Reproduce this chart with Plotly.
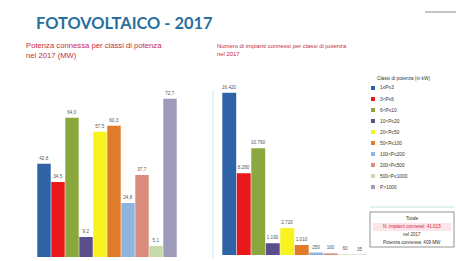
import plotly.graph_objects as go

# ---- data (approximate) ----
classi = ["1≤P≤3", "3<P≤6", "6<P≤10", "10<P≤20", "20<P≤50",
          "50<P≤100", "100<P≤200", "200<P≤500", "500<P≤1000", "P>1000"]
potenza_mw = [42.8, 34.5, 64.0, 9.2, 57.5, 60.3, 24.8, 37.7, 5.1, 72.7]
numero_impianti = [16420, 8280, 10790, 1190, 2720, 1010, 250, 160, 60, 35]
colori = ["#2F63A8", "#E8181B", "#8BA83E", "#5B4E8C", "#F8F21E",
          "#E07B2C", "#8FB4E0", "#D98C7C", "#C6DBA9", "#9D9BB9"]

titolo = "FOTOVOLTAICO - 2017"
sottotitolo_sx = "Potenza connessa per classi di potenza<br>nel 2017 (MW)"
sottotitolo_dx = "Numero di impianti connessi per classi di potenza<br>nel 2017"
titolo_legenda = "Classi di potenza (in kW)"
totale_righe = ["Totale", "N. impianti connessi: 41.015", "nel 2017",
                "Potenza connessa: 409 MW"]

W, H = 456, 261
def px(x): return x / W
def py(y): return 1 - y / H

fig = go.Figure()
fig.add_trace(go.Bar(
    x=classi, y=potenza_mw, marker_color=colori, marker_line_width=0,
    text=potenza_mw, texttemplate="%{y:.1f}", textposition="outside",
    constraintext="none", cliponaxis=False,
    textfont=dict(size=4.6, color="#555555", family="Liberation Sans"),
    xaxis="x", yaxis="y", showlegend=False, hoverinfo="skip"))
fig.add_trace(go.Bar(
    x=classi, y=numero_impianti, marker_color=colori, marker_line_width=0,
    text=numero_impianti, texttemplate="%{y:,.0f}", textposition="outside",
    constraintext="none", cliponaxis=False,
    textfont=dict(size=4.6, color="#555555", family="Liberation Sans"),
    xaxis="x2", yaxis="y2", showlegend=False, hoverinfo="skip"))

ax = dict(showgrid=False, zeroline=False, showticklabels=False, ticks="",
          showline=False, fixedrange=True)
layout = dict(
    width=W, height=H, margin=dict(l=0, r=0, t=0, b=0),
    paper_bgcolor="white", plot_bgcolor="rgba(0,0,0,0)",
    separators=",.", bargap=0.04,
    xaxis=dict(ax, domain=[px(37), px(177)]),
    yaxis=dict(ax, domain=[py(257), py(85)], range=[0, 79]),
    xaxis2=dict(ax, domain=[px(222), px(367)], anchor="y2"),
    yaxis2=dict(ax, domain=[py(255), py(85)], range=[0, 17200], anchor="x2"),
)
fig.update_layout(**layout)

P = dict(xref="paper", yref="paper", showarrow=False)
ann = []
ann.append(dict(P, text="<b>" + titolo + "</b>", x=px(34), y=py(22), xanchor="left",
                yanchor="middle",
                font=dict(family="Lato", size=16.4, color="#2A6F9E")))
ann.append(dict(P, text=sottotitolo_sx, x=px(24), y=py(50), xanchor="left",
                yanchor="middle", align="left",
                font=dict(family="Liberation Sans", size=7.7, color="#C62A45")))
ann.append(dict(P, text=sottotitolo_dx, x=px(215), y=py(50), xanchor="left",
                yanchor="middle", align="left",
                font=dict(family="Liberation Sans", size=5.9, color="#C62A45")))
ann.append(dict(P, text=titolo_legenda, x=px(403), y=py(78), xanchor="center",
                yanchor="middle",
                font=dict(family="Liberation Sans", size=4.8, color="#333333")))

shapes = []
for i, (c, col) in enumerate(zip(classi, colori)):
    yc = 88 + i * 11
    shapes.append(dict(type="rect", xref="paper", yref="paper",
                       x0=px(371), x1=px(375), y0=py(yc + 2), y1=py(yc - 2),
                       fillcolor=col, line=dict(width=0)))
    ann.append(dict(P, text=c, x=px(378), y=py(yc), xanchor="left", yanchor="middle",
                    font=dict(family="Liberation Sans", size=4.8, color="#333333")))

# total box
shapes.append(dict(type="line", xref="paper", yref="paper", x0=px(370), x1=px(455),
                   y0=py(207), y1=py(207), line=dict(color="#BFE3E3", width=1)))
shapes.append(dict(type="rect", xref="paper", yref="paper", x0=px(370), x1=px(454),
                   y0=py(247), y1=py(212), line=dict(color="#666666", width=0.7)))
shapes.append(dict(type="rect", xref="paper", yref="paper", x0=px(373), x1=px(451),
                   y0=py(231), y1=py(223), fillcolor="#FCE4EA", line=dict(width=0)))
cols_tot = ["#333333", "#D0283C", "#333333", "#333333"]
for j, (t, cc) in enumerate(zip(totale_righe, cols_tot)):
    ann.append(dict(P, text=t, x=px(412), y=py(218 + j * 8.3), xanchor="center",
                    yanchor="middle",
                    font=dict(family="Liberation Sans", size=4.6, color=cc)))

# decoration
shapes.append(dict(type="line", xref="paper", yref="paper", x0=px(425), x1=px(456),
                   y0=py(12), y1=py(12), line=dict(color="#888888", width=1)))
shapes.append(dict(type="line", xref="paper", yref="paper", x0=px(213), x1=px(213),
                   y0=py(258), y1=py(90), line=dict(color="#E3F6FA", width=2)))

fig.update_layout(annotations=ann, shapes=shapes)
fig.write_html("out.html", config={"displayModeBar": False, "staticPlot": True},
               post_script="document.body.style.margin='0';document.body.style.overflow='hidden';")
